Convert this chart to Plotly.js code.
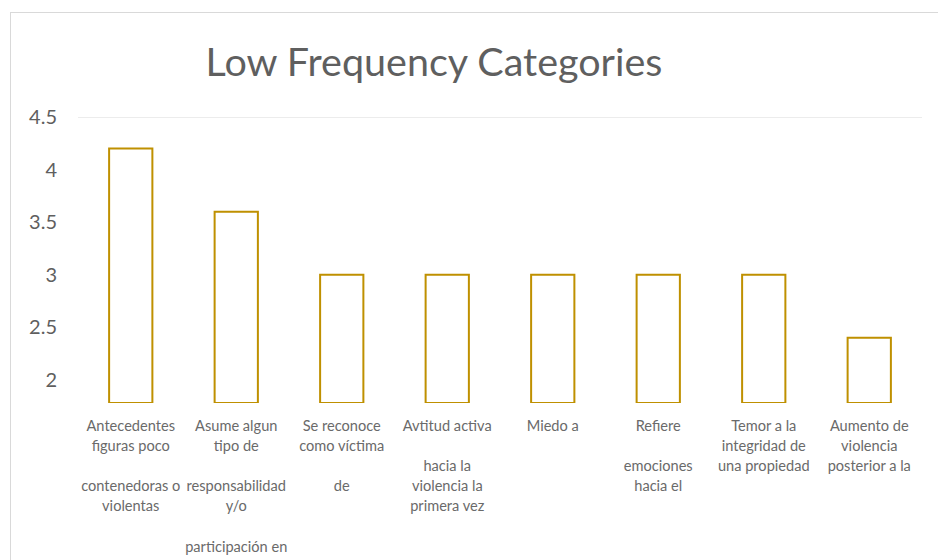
<!DOCTYPE html>
<html>
<head>
<meta charset="utf-8">
<script src="https://cdn.plot.ly/plotly-3.0.1.min.js"></script>
<style>
  html, body { margin: 0; padding: 0; background: #fff; overflow: hidden; }
  #frame { position: absolute; left: 10px; top: 12px; width: 1000px; height: 600px; border: 1px solid #d9d9d9; }
  #chart { position: absolute; left: 0; top: 0; width: 938px; height: 560px; }
</style>
</head>
<body>
<div id="frame"></div>
<div id="chart"></div>
<script>
// ---- data ----
var categories = ["c1", "c2", "c3", "c4", "c5", "c6", "c7", "c8"];
var labelLines = [
  ["Antecedentes", "figuras poco", "", "contenedoras o", "violentas"],
  ["Asume algun", "tipo de", "", "responsabilidad", "y/o", "", "participación en"],
  ["Se reconoce", "como víctima", "", "de"],
  ["Avtitud activa", "", "hacia la", "violencia la", "primera vez"],
  ["Miedo a"],
  ["Refiere", "", "emociones", "hacia el"],
  ["Temor a la", "integridad de", "una propiedad"],
  ["Aumento de", "violencia", "posterior a la"]
];
var values = [4.2, 3.6, 3, 3, 3, 3, 3, 2.4];
var yTicks = [2, 2.5, 3, 3.5, 4, 4.5];
var yTickText = ["2", "2.5", "3", "3.5", "4", "4.5"];
var yMin = 1.78, yMax = 4.5;
var chartTitle = "Low Frequency Categories";

// ---- build ----
var FONT = "Lato, 'Open Sans', sans-serif";
var GRAY = "#5f5f5f";
var BAR = "#BF9000";

var tickText = labelLines.map(function (lines) {
  return lines.map(function (l) {
    return '<span style="font-size:14.6px">' + (l === "" ? "\u00a0" : l) + '</span>';
  }).join("<br>");
});

var trace = {
  type: "bar",
  x: categories,
  y: values.map(function (v) { return v - yMin; }),
  base: yMin,
  marker: { color: "#ffffff", line: { color: BAR, width: 2 } },
  hoverinfo: "none"
};

var layout = {
  width: 938,
  height: 560,
  paper_bgcolor: "rgba(0,0,0,0)",
  plot_bgcolor: "rgba(0,0,0,0)",
  margin: { l: 78, r: 16, t: 117, b: 157 },
  showlegend: false,
  bargap: 0.59,
  font: { family: FONT, color: GRAY },
  title: {
    text: chartTitle,
    font: { family: FONT, size: 39.5, color: GRAY },
    xref: "container", yref: "container",
    x: 434 / 938, y: 1 - 62 / 560,
    xanchor: "center", yanchor: "middle"
  },
  xaxis: {
    type: "category",
    tickvals: categories,
    ticktext: tickText,
    tickangle: 0,
    tickfont: { family: FONT, size: 15.4, color: "#6a6a6a" },
    showgrid: false, zeroline: false, showline: false,
    ticks: "", automargin: false,
    ticklabelstandoff: 12
  },
  yaxis: {
    range: [yMin, yMax],
    tickvals: yTicks,
    ticktext: yTickText,
    tickfont: { family: FONT, size: 20, color: GRAY },
    showgrid: false, zeroline: false, showline: false,
    ticks: "", automargin: false,
    ticklabelstandoff: 20
  },
  shapes: [{
    type: "line", xref: "paper", yref: "y",
    x0: 0, x1: 1, y0: yMax, y1: yMax,
    line: { color: "#e6e6e6", width: 1.5 }
  }]
};

Plotly.newPlot("chart", [trace], layout, { displayModeBar: false, staticPlot: true });
</script>
</body>
</html>
